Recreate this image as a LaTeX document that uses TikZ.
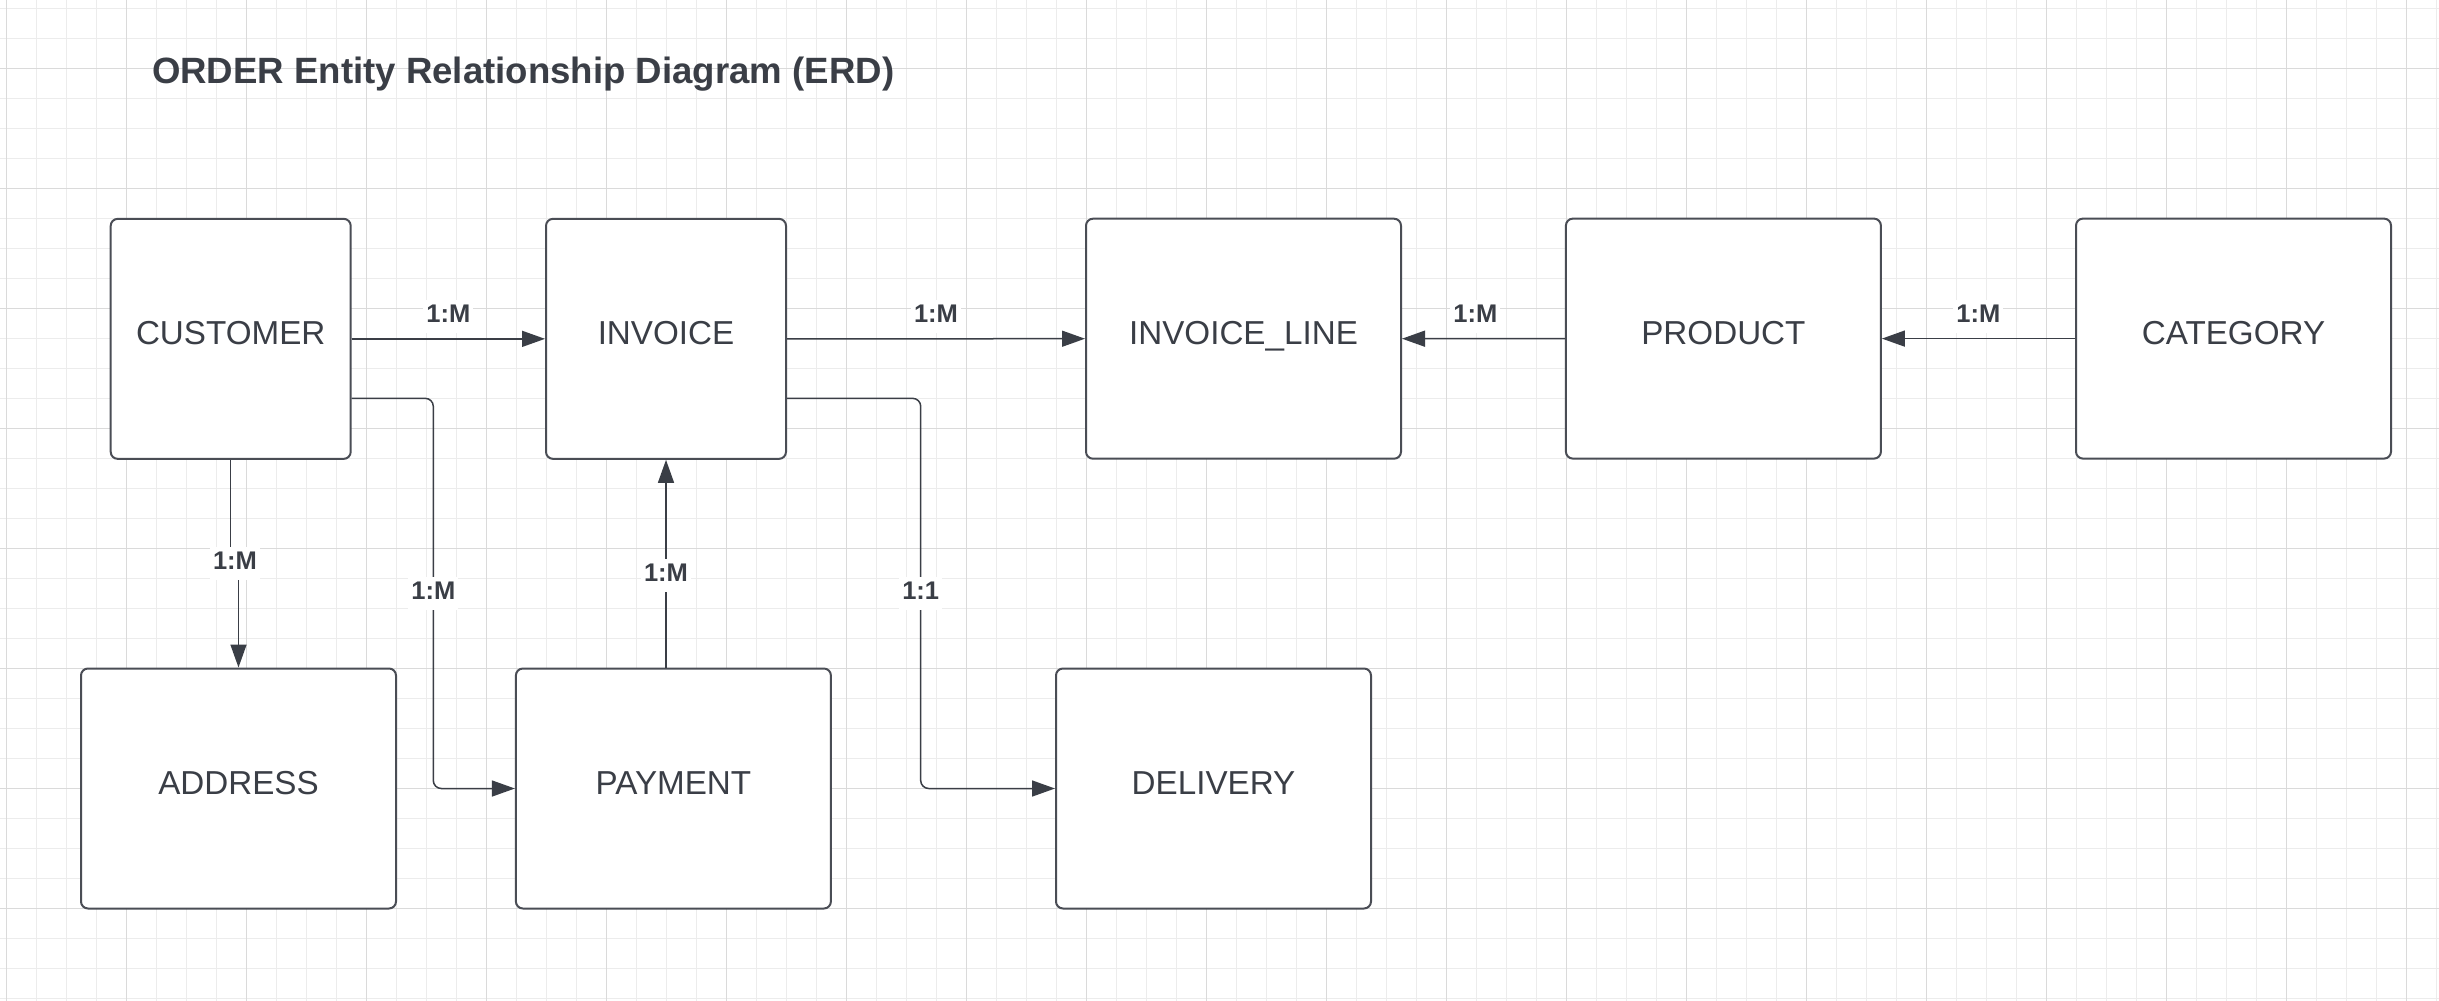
\documentclass[tikz,border=0pt]{standalone}
\usepackage{fontspec}
\setmainfont{Liberation Sans}
\usetikzlibrary{arrows.meta}
\definecolor{ink}{HTML}{3A3E46}
\definecolor{boxline}{HTML}{4A4D55}
\definecolor{gridminor}{HTML}{ECECEC}
\definecolor{gridmajor}{HTML}{DADADA}
\begin{document}
\begin{tikzpicture}[x=1pt,y=-1pt,
  entity/.style={draw=boxline, line width=2pt, rounded corners=7pt, fill=white,
    minimum height=240pt, text=ink, font=\fontsize{33.2}{36}\selectfont,
    text height=23.8pt, text depth=12.3pt, inner sep=0pt},
  smallbox/.style={entity, minimum width=240pt},
  widebox/.style={entity, minimum width=315pt},
  conn/.style={draw=ink, line width=1.5pt, -{Triangle[length=23pt,width=16pt]}},
  card/.style={fill=white, text=ink, font=\fontsize{25.5}{28}\selectfont\bfseries,
    text height=18.5pt, text depth=6.5pt, inner xsep=3pt, inner ysep=4pt, anchor=base},
  gminor/.style={draw=gridminor, line width=1.3pt},
  gmajor/.style={draw=gridmajor, line width=1.5pt},
]
\useasboundingbox (0,0) rectangle (2439,1001);
\fill[white] (0,0) rectangle (2439,1001);
% grid
\foreach \gx in {0,...,81} \draw[gminor] ({6.7+30*\gx},0) -- ({6.7+30*\gx},1001);
\foreach \gy in {0,...,33} \draw[gminor] (0,{8.3+30*\gy}) -- (2439,{8.3+30*\gy});
\foreach \gx in {0,...,20} \draw[gmajor] ({6.7+120*\gx},0) -- ({6.7+120*\gx},1001);
\foreach \gy in {0,...,7} \draw[gmajor] (0,{68.3+120*\gy}) -- (2439,{68.3+120*\gy});

% title
\node[anchor=base west, text=ink, font=\fontsize{36.6}{40}\selectfont\bfseries, inner sep=0pt]
  (title) at (151.8,83.3) {ORDER Entity Relationship Diagram (ERD)};

% entities
\node[smallbox] (customer) at (230.7,338.85) {CUSTOMER};
\node[smallbox] (invoice)  at (666,338.85) {INVOICE};
\node[widebox]  (invline)  at (1243.5,338.7) {INVOICE\_LINE};
\node[widebox]  (product)  at (1723.4,338.6) {PRODUCT};
\node[widebox]  (category) at (2233.5,338.6) {CATEGORY};
\node[widebox]  (address)  at (238.5,788.5) {ADDRESS};
\node[widebox]  (payment)  at (673.4,788.5) {PAYMENT};
\node[widebox]  (delivery) at (1213.5,788.5) {DELIVERY};

% connectors
\draw[conn] (customer.east) -- (invoice.west);
\draw[conn] (invoice.east) -- (invline.west);
\draw[conn] (product.west) -- (invline.east);
\draw[conn] (category.west) -- (product.east);
\coordinate (jog) at (234.6,563);
\draw[conn] (customer.south) |- (jog) -| (address.north);
\coordinate (pbend) at (433.3,600);
\draw[conn, rounded corners=8pt] ([yshift=-59.5pt]customer.east) -| (pbend) |- (payment.west);
\draw[conn] (payment.north -| invoice.south) -- (invoice.south);
\coordinate (dbend) at (920.7,600);
\draw[conn, rounded corners=8pt] ([yshift=-59.5pt]invoice.east) -| (dbend) |- (delivery.west);

% cardinality labels
\node[card] (l1) at (448.4,322.7) {1:M};
\node[card] (l2) at (936,322.7) {1:M};
\node[card] (l3) at (1475.3,322.7) {1:M};
\node[card] (l4) at (1978.4,322.7) {1:M};
\node[card] (l5) at (235,569.3) {1:M};
\node[card] (l6) at (433.3,599) {1:M};
\node[card] (l7) at (666,581.7) {1:M};
\node[card] (l8) at (920.7,599) {1:1};
\end{tikzpicture}
\end{document}
